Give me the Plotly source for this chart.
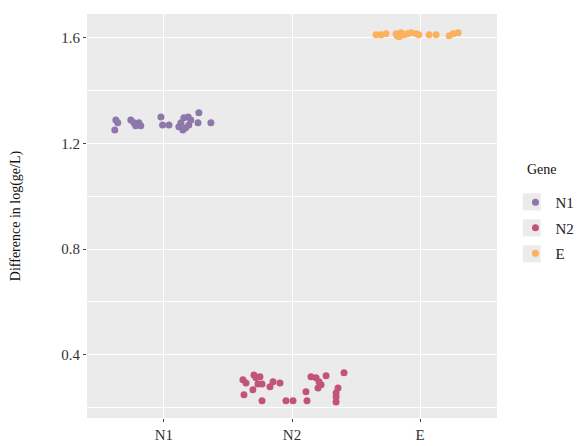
import plotly.graph_objects as go

genes = ["N1", "N2", "E"]
colors = {"N1": "#8e77ab", "N2": "#c2537c", "E": "#fdb15f"}

# jittered x positions (category index 1..3) and values
n1_x = [0.625, 0.64, 0.617, 0.742, 0.766, 0.805, 0.82, 0.78, 0.977, 0.99, 1.04,
        1.133, 1.148, 1.156, 1.19, 1.195, 1.117, 1.273, 1.266, 1.367, 1.21, 1.17]
n1_y = [1.289, 1.278, 1.251, 1.289, 1.278, 1.278, 1.267, 1.267, 1.30, 1.27, 1.27,
        1.278, 1.251, 1.297, 1.30, 1.27, 1.263, 1.316, 1.278, 1.278, 1.289, 1.259]

n2_x = [1.617, 1.641, 1.703, 1.719, 1.75, 1.734, 1.766, 1.695, 1.625, 1.828, 1.852,
        1.906, 1.766, 1.953, 2.008, 2.109, 2.117, 2.148, 2.1875, 2.211, 2.227, 2.203,
        2.266, 2.406, 2.359, 2.344, 2.344, 2.344]
n2_y = [0.305, 0.293, 0.323, 0.312, 0.316, 0.289, 0.289, 0.267, 0.248, 0.278, 0.297,
        0.293, 0.225, 0.225, 0.225, 0.259, 0.225, 0.316, 0.312, 0.297, 0.286, 0.274,
        0.320, 0.331, 0.274, 0.255, 0.240, 0.221]

e_x = [2.656, 2.695, 2.734, 2.8125, 2.836, 2.85, 2.875, 2.93, 2.97, 2.99,
       3.07, 3.125, 3.227, 3.258, 3.297, 2.82, 2.9]
e_y = [1.611, 1.611, 1.615, 1.615, 1.604, 1.619, 1.611, 1.619, 1.615, 1.611,
       1.611, 1.611, 1.608, 1.615, 1.619, 1.608, 1.615]

series = {"N1": (n1_x, n1_y), "N2": (n2_x, n2_y), "E": (e_x, e_y)}

y_ticks = [0.4, 0.8, 1.2, 1.6]
y_minor = [0.2, 0.6, 1.0, 1.4]

fig = go.Figure()
for g in genes:
    xs, ys = series[g]
    fig.add_trace(go.Scatter(
        x=xs, y=ys, mode="markers", name=g, legendgroup=g,
        marker=dict(size=7, color=colors[g], line=dict(width=0)),
        hoverinfo="skip"))

# grey legend key backgrounds (ggplot style)
for i in range(3):
    c = 0.535 - i * 26 / 404
    h = 8.5 / 404
    fig.add_shape(type="rect", xref="paper", yref="paper",
                  x0=1.063, x1=1.1065, y0=c - h, y1=c + h,
                  fillcolor="#ebebeb", line=dict(width=0), layer="below")

font = "Liberation Serif, Times New Roman, serif"
fig.add_annotation(text="Gene", xref="paper", yref="paper", x=1.068, y=0.614,
                   xanchor="left", yanchor="middle", showarrow=False,
                   font=dict(family=font, size=14, color="#111"))

fig.update_layout(
    width=577, height=438,
    margin=dict(l=79, r=85, t=6, b=28),
    paper_bgcolor="white", plot_bgcolor="#ebebeb",
    font=dict(family=font, size=14, color="#222"),
    showlegend=True,
    legend=dict(x=1.045, y=0.47, xanchor="left", yanchor="middle",
                font=dict(size=15, color="#222"), tracegroupgap=3,
                itemwidth=30, bgcolor="rgba(0,0,0,0)"),
    xaxis=dict(range=[0.4, 3.6], tickvals=[1, 2, 3], ticktext=genes, automargin=False,
               showgrid=True, gridcolor="white", gridwidth=1.4, zeroline=False,
               ticks="outside", ticklen=3, tickcolor="#444", tickwidth=1,
               tickfont=dict(size=15, color="#333"), showline=False),
    yaxis=dict(range=[0.16, 1.69], tickvals=y_ticks, ticktext=["0.4", "0.8", "1.2", "1.6"],
               automargin=False,
               showgrid=True, gridcolor="white", gridwidth=1.4, zeroline=False,
               ticks="outside", ticklen=3, tickcolor="#444", tickwidth=1,
               tickfont=dict(size=15, color="#333"), showline=False,
               minor=dict(tickvals=y_minor, showgrid=True, gridcolor="white", gridwidth=0.7, ticks=""),
               title=dict(text="Difference in log(ge/L)", font=dict(size=14, color="#111"), standoff=42)),
)
fig.write_html("out.html")
